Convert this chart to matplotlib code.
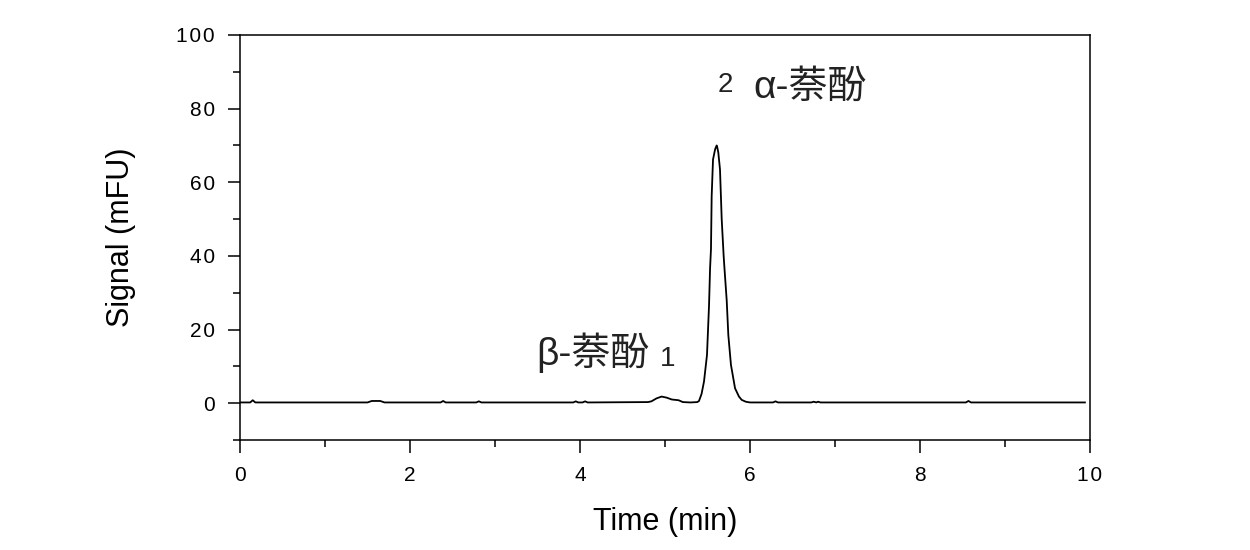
import matplotlib
matplotlib.use("Agg")
import matplotlib.pyplot as plt
from matplotlib.ticker import MultipleLocator

plt.rcParams['font.family'] = ['Liberation Sans', 'Noto Sans CJK SC', 'DejaVu Sans']

# Chromatogram trace (time in min, signal in mFU)
time_min = [0.0, 0.12, 0.15, 0.18, 0.22, 1.50, 1.55, 1.65, 1.70, 2.36, 2.39, 2.42,
            2.78, 2.81, 2.84, 3.92, 3.95, 3.98, 4.03, 4.06, 4.09, 4.80, 4.84, 4.90,
            4.96, 5.02, 5.08, 5.12, 5.16, 5.21, 5.30, 5.38, 5.40, 5.43, 5.459, 5.494,
            5.518, 5.530, 5.541, 5.549, 5.565, 5.59, 5.608, 5.615, 5.627, 5.647, 5.667,
            5.69, 5.70, 5.726, 5.745, 5.776, 5.824, 5.87, 5.902, 5.95, 6.0, 6.27, 6.30,
            6.33, 6.72, 6.75, 6.78, 6.80, 6.83, 8.54, 8.57, 8.60, 9.94]
signal_mfu = [0.2, 0.2, 0.8, 0.2, 0.2, 0.2, 0.6, 0.6, 0.2, 0.2, 0.6, 0.2,
              0.2, 0.5, 0.2, 0.2, 0.5, 0.2, 0.2, 0.5, 0.2, 0.3, 0.5, 1.3,
              1.8, 1.5, 1.0, 0.9, 0.8, 0.3, 0.2, 0.3, 0.6, 2.5, 5.9, 13.1,
              26.6, 36.5, 41.9, 56.2, 66.2, 69.0, 70.0, 69.5, 68.1, 63.5, 50.0,
              40.0, 36.5, 27.9, 18.5, 10.4, 4.05, 1.8, 0.9, 0.4, 0.2, 0.2, 0.5,
              0.2, 0.2, 0.4, 0.2, 0.4, 0.2, 0.2, 0.6, 0.2, 0.2]

x_ticks = [0, 2, 4, 6, 8, 10]
y_ticks = [0, 20, 40, 60, 80, 100]

peak_labels = [("2", "α-萘酚"), ("β-萘酚", "1")]


def spaced(v):
    return '\u200a'.join(str(v))


fig = plt.figure(figsize=(12.5, 5.5), dpi=100)
ax = fig.add_axes([240 / 1250, 1 - 440 / 550, 850 / 1250, 405 / 550])

ax.plot(time_min, signal_mfu, color='black', linewidth=1.3)

ax.set_xlim(0, 10)
ax.set_ylim(-10, 100)
ax.set_xticks(x_ticks)
ax.set_yticks(y_ticks)
ax.set_xticklabels([spaced(v) for v in x_ticks])
ax.set_yticklabels([spaced(v) for v in y_ticks])
ax.xaxis.set_minor_locator(MultipleLocator(1))
ax.yaxis.set_minor_locator(MultipleLocator(10))

ax.tick_params(which='both', direction='out', top=False, right=False, width=1.1, colors='black')
ax.tick_params(which='major', length=9, labelsize=15)
ax.tick_params(axis='x', which='major', pad=10)
ax.tick_params(axis='y', which='major', pad=9)
ax.tick_params(which='minor', length=5)
for s in ax.spines.values():
    s.set_linewidth(1.1)
    s.set_color('black')

ax.set_xlabel('Time (min)', fontsize=22)
ax.set_ylabel('Signal (mFU)', fontsize=22)
ax.xaxis.set_label_coords(0.5, -0.165)
ax.yaxis.set_label_coords(-0.122, 0.5)

# peak annotations
ax.text(5.624, 84.6, peak_labels[0][0], fontsize=20, ha='left', va='baseline', color='#222222')
ax.text(6.04, 83.0, peak_labels[0][1], fontsize=28, ha='left', va='baseline', color='#222222')
ax.text(3.48, 10.3, peak_labels[1][0], fontsize=28, ha='left', va='baseline', color='#222222')
ax.text(4.94, 10.0, peak_labels[1][1], fontsize=20, ha='left', va='baseline', color='#222222')

fig.savefig('out.png', dpi=100, facecolor='white')
